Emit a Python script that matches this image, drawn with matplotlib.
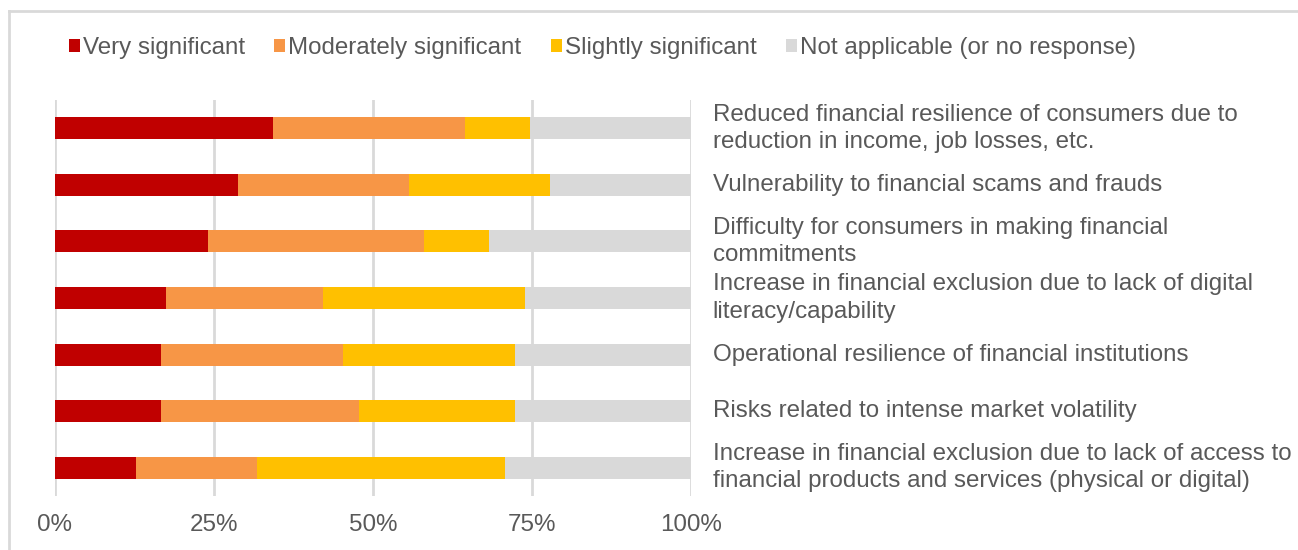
"""Stacked bar chart: significance of consumer/financial risks."""
import matplotlib
matplotlib.use("Agg")
import matplotlib.pyplot as plt
from matplotlib.patches import Patch
from matplotlib.lines import Line2D

plt.rcParams.update({"font.family": ["Liberation Sans", "DejaVu Sans"],
                     "font.size": 17.4})

categories = [
    "Reduced financial resilience of consumers due to\nreduction in income, job losses, etc.",
    "Vulnerability to financial scams and frauds",
    "Difficulty for consumers in making financial\ncommitments",
    "Increase in financial exclusion due to lack of digital\nliteracy/capability",
    "Operational resilience of financial institutions",
    "Risks related to intense market volatility",
    "Increase in financial exclusion due to lack of access to\nfinancial products and services (physical or digital)",
]
very     = [34.3, 28.7, 24.0, 17.5, 16.7, 16.7, 12.7]
moderate = [30.2, 27.0, 34.0, 24.6, 28.6, 31.1, 19.1]
slight   = [10.2, 22.2, 10.3, 31.8, 27.0, 24.5, 38.9]
series_names = ["Very significant", "Moderately significant",
                "Slightly significant", "Not applicable (or no response)"]
colors = ["#C00000", "#F79646", "#FFC000", "#D9D9D9"]
ticks = [0, 25, 50, 75, 100]
tick_labels = ["0%", "25%", "50%", "75%", "100%"]

na = [100 - a - b - c for a, b, c in zip(very, moderate, slight)]
series = [very, moderate, slight, na]

W, H = 1298, 550
fig = plt.figure(figsize=(W / 100, H / 100), dpi=100)
ax = fig.add_axes([55 / W, 1 - 496 / H, (691 - 55) / W, (496 - 100) / H])

ypos = list(range(len(categories)))
left = [0] * len(categories)
for vals, col in zip(series, colors):
    ax.barh(ypos, vals, left=left, height=0.39, color=col, zorder=3)
    left = [l + v for l, v in zip(left, vals)]

ax.set_xlim(0, 100)
ax.set_ylim(len(categories) - 0.5, -0.5)
ax.set_xticks(ticks)
ax.set_xticklabels(tick_labels, color="#595959")
ax.set_yticks(ypos)
ax.set_yticklabels(categories, color="#595959", ha="left", va="center",
                   linespacing=1.3)
ax.yaxis.tick_right()
ax.tick_params(axis="y", length=0, pad=15.5)
ax.tick_params(axis="x", length=0, pad=13)
for s in ax.spines.values():
    s.set_visible(False)
ax.grid(axis="x", color="#D9D9D9", linewidth=2, zorder=0)

handles = [Patch(facecolor=c, edgecolor="none") for c in colors]
fig.legend(handles, series_names, loc="center left",
           bbox_to_anchor=(69 / W, 1 - 48 / H), ncol=4, frameon=False,
           handlelength=0.45, handleheight=0.45, handletextpad=0.12,
           columnspacing=1.22, borderpad=0, borderaxespad=0,
           labelcolor="#595959")

# light chart-area border (top and left edges visible)
fig.add_artist(Line2D([9 / W, 1], [1 - 11 / H, 1 - 11 / H],
                      color="#D9D9D9", linewidth=2, transform=fig.transFigure))
fig.add_artist(Line2D([9 / W, 9 / W], [0, 1 - 11 / H],
                      color="#D9D9D9", linewidth=2, transform=fig.transFigure))

fig.savefig("out.png", dpi=100)
